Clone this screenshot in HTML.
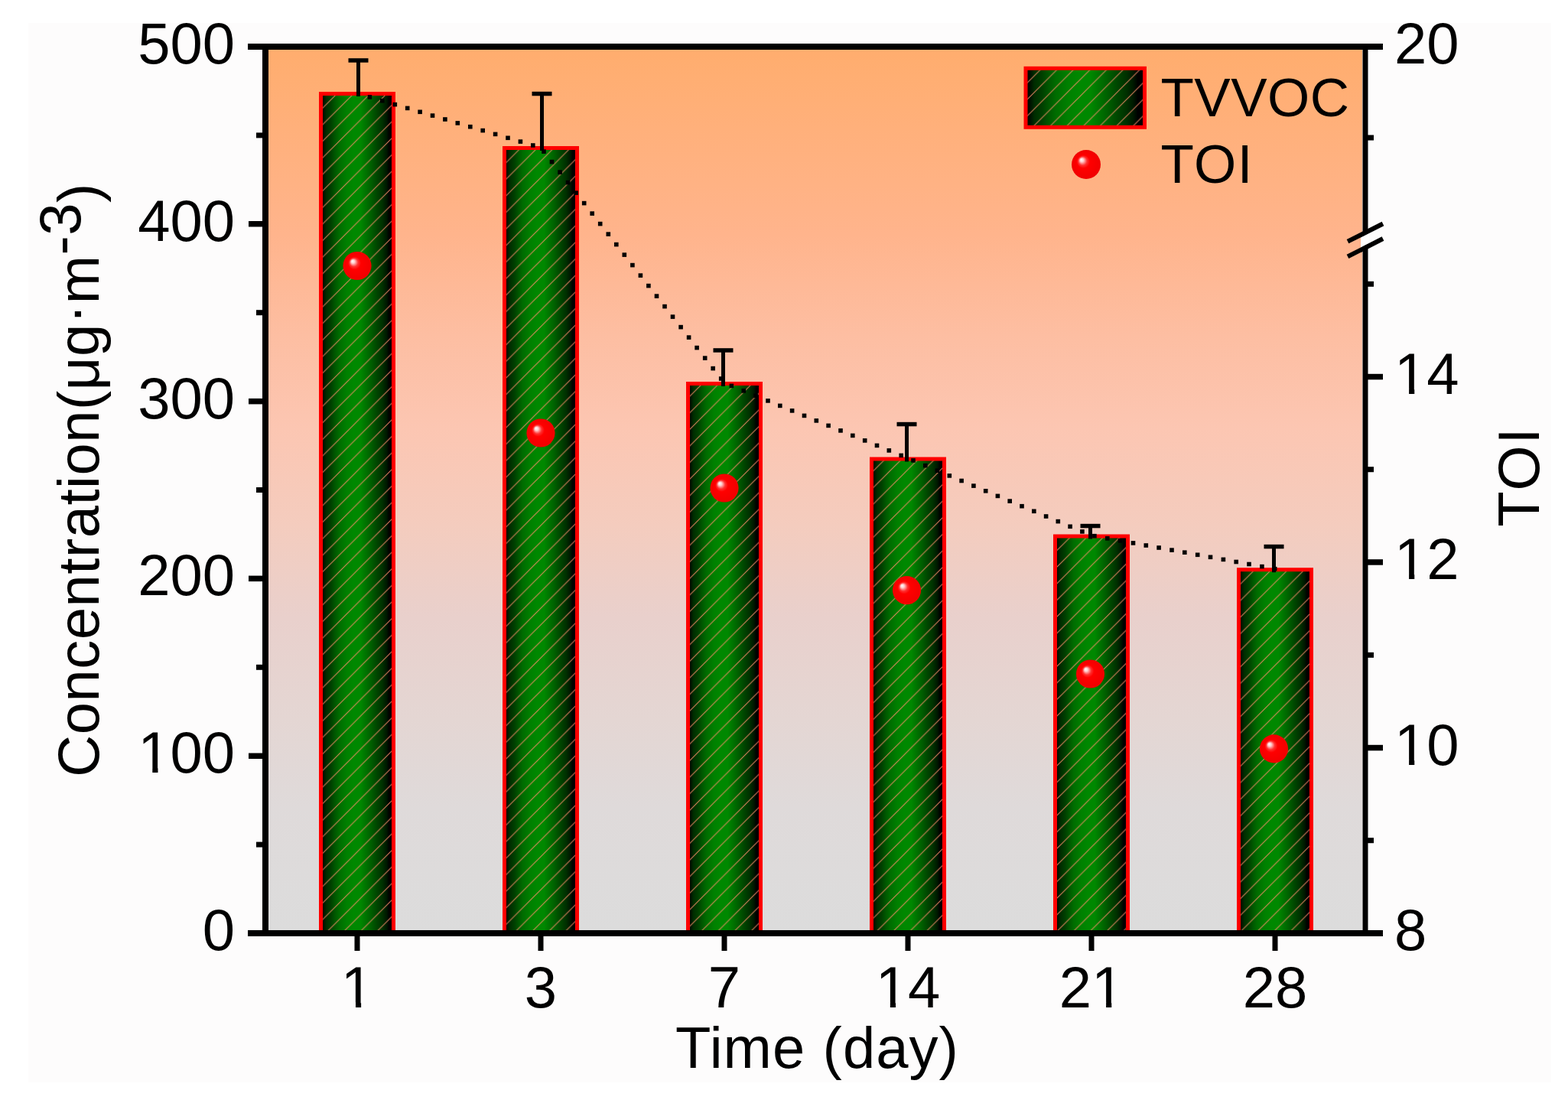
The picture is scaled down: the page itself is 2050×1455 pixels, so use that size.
<!DOCTYPE html>
<html><head><meta charset="utf-8"><title>TVVOC and TOI vs time</title>
<style>
html,body{margin:0;padding:0;background:#ffffff;}
body{width:2050px;height:1455px;overflow:hidden;}
svg{display:block;}
text{font-family:"Liberation Sans", Arial, sans-serif;fill:#000;}
</style></head><body>
<svg width="2050" height="1455" viewBox="0 0 2050 1455">
<defs>
<linearGradient id="bg" x1="0" y1="65" x2="0" y2="1216" gradientUnits="userSpaceOnUse">
<stop offset="0" stop-color="#ffad6e"/>
<stop offset="0.21" stop-color="#ffb48c"/>
<stop offset="0.325" stop-color="#fdbea2"/>
<stop offset="0.43" stop-color="#fcc6b2"/>
<stop offset="0.54" stop-color="#f4ccbe"/>
<stop offset="0.645" stop-color="#e9d0cc"/>
<stop offset="0.76" stop-color="#e4d6d3"/>
<stop offset="0.86" stop-color="#dfdada"/>
<stop offset="1" stop-color="#dcdcdc"/>
</linearGradient>
<linearGradient id="barg" x1="0" y1="0" x2="1" y2="0">
<stop offset="0.026" stop-color="#000800"/>
<stop offset="0.073" stop-color="#002c00"/>
<stop offset="0.139" stop-color="#004000"/>
<stop offset="0.196" stop-color="#005800"/>
<stop offset="0.253" stop-color="#006c00"/>
<stop offset="0.357" stop-color="#008000"/>
<stop offset="0.451" stop-color="#008800"/>
<stop offset="0.546" stop-color="#008800"/>
<stop offset="0.602" stop-color="#007800"/>
<stop offset="0.688" stop-color="#006000"/>
<stop offset="0.763" stop-color="#004800"/>
<stop offset="0.848" stop-color="#003000"/>
<stop offset="0.905" stop-color="#001800"/>
<stop offset="0.943" stop-color="#000000"/>
<stop offset="0.971" stop-color="#000000"/>
</linearGradient>
<radialGradient id="sph" cx="0.5" cy="0.5" r="0.5" fx="0.33" fy="0.33">
<stop offset="0" stop-color="#ffffff"/>
<stop offset="0.12" stop-color="#ffd0d0"/>
<stop offset="0.3" stop-color="#ff3030"/>
<stop offset="0.45" stop-color="#ff0000"/>
<stop offset="1" stop-color="#f00000"/>
</radialGradient>
</defs>

<defs><pattern id="h0" patternUnits="userSpaceOnUse" x="0.20" y="0" width="21.65" height="21.65"><path d="M-10.82,10.82 L10.82,-10.82 M0,21.65 L21.65,0 M10.82,32.47 L32.47,10.82" stroke="#f88c6a" stroke-opacity="0.85" stroke-width="1.15" fill="none"/></pattern><pattern id="h1" patternUnits="userSpaceOnUse" x="8.25" y="0" width="21.65" height="21.65"><path d="M-10.82,10.82 L10.82,-10.82 M0,21.65 L21.65,0 M10.82,32.47 L32.47,10.82" stroke="#f88c6a" stroke-opacity="0.85" stroke-width="1.15" fill="none"/></pattern><pattern id="h2" patternUnits="userSpaceOnUse" x="12.55" y="0" width="21.65" height="21.65"><path d="M-10.82,10.82 L10.82,-10.82 M0,21.65 L21.65,0 M10.82,32.47 L32.47,10.82" stroke="#f88c6a" stroke-opacity="0.85" stroke-width="1.15" fill="none"/></pattern><pattern id="h3" patternUnits="userSpaceOnUse" x="3.85" y="0" width="21.65" height="21.65"><path d="M-10.82,10.82 L10.82,-10.82 M0,21.65 L21.65,0 M10.82,32.47 L32.47,10.82" stroke="#f88c6a" stroke-opacity="0.85" stroke-width="1.15" fill="none"/></pattern><pattern id="h4" patternUnits="userSpaceOnUse" x="1.35" y="0" width="21.65" height="21.65"><path d="M-10.82,10.82 L10.82,-10.82 M0,21.65 L21.65,0 M10.82,32.47 L32.47,10.82" stroke="#f88c6a" stroke-opacity="0.85" stroke-width="1.15" fill="none"/></pattern><pattern id="h5" patternUnits="userSpaceOnUse" x="3.70" y="0" width="21.65" height="21.65"><path d="M-10.82,10.82 L10.82,-10.82 M0,21.65 L21.65,0 M10.82,32.47 L32.47,10.82" stroke="#f88c6a" stroke-opacity="0.85" stroke-width="1.15" fill="none"/></pattern><pattern id="h6" patternUnits="userSpaceOnUse" x="0.75" y="0" width="21.65" height="21.65"><path d="M-10.82,10.82 L10.82,-10.82 M0,21.65 L21.65,0 M10.82,32.47 L32.47,10.82" stroke="#f88c6a" stroke-opacity="0.85" stroke-width="1.15" fill="none"/></pattern></defs>
<rect x="37" y="30" width="1991" height="1385" fill="#fdfcfc"/>
<rect x="351" y="65" width="1430" height="1151" fill="url(#bg)"/>
<rect x="419.5" y="122.5" width="95.0" height="1098.5" fill="url(#barg)"/>
<rect x="419.5" y="122.5" width="95.0" height="1098.5" fill="url(#h0)"/>
<rect x="419.5" y="122.5" width="95.0" height="1098.5" fill="none" stroke="#ff0000" stroke-width="5"/>
<rect x="659.5" y="193.5" width="95.0" height="1027.5" fill="url(#barg)"/>
<rect x="659.5" y="193.5" width="95.0" height="1027.5" fill="url(#h1)"/>
<rect x="659.5" y="193.5" width="95.0" height="1027.5" fill="none" stroke="#ff0000" stroke-width="5"/>
<rect x="899.5" y="501.5" width="95.0" height="719.5" fill="url(#barg)"/>
<rect x="899.5" y="501.5" width="95.0" height="719.5" fill="url(#h2)"/>
<rect x="899.5" y="501.5" width="95.0" height="719.5" fill="none" stroke="#ff0000" stroke-width="5"/>
<rect x="1139.5" y="600.0" width="95.0" height="621.0" fill="url(#barg)"/>
<rect x="1139.5" y="600.0" width="95.0" height="621.0" fill="url(#h3)"/>
<rect x="1139.5" y="600.0" width="95.0" height="621.0" fill="none" stroke="#ff0000" stroke-width="5"/>
<rect x="1379.5" y="701.0" width="95.0" height="520.0" fill="url(#barg)"/>
<rect x="1379.5" y="701.0" width="95.0" height="520.0" fill="url(#h4)"/>
<rect x="1379.5" y="701.0" width="95.0" height="520.0" fill="none" stroke="#ff0000" stroke-width="5"/>
<rect x="1619.5" y="744.7" width="95.0" height="476.3" fill="url(#barg)"/>
<rect x="1619.5" y="744.7" width="95.0" height="476.3" fill="url(#h5)"/>
<rect x="1619.5" y="744.7" width="95.0" height="476.3" fill="none" stroke="#ff0000" stroke-width="5"/>
<rect x="466.0" y="79.0" width="5" height="47.0" fill="#000"/>
<rect x="455.5" y="76.2" width="26" height="5.5" fill="#000"/>
<rect x="706.0" y="122.5" width="5" height="74.5" fill="#000"/>
<rect x="695.5" y="119.8" width="26" height="5.5" fill="#000"/>
<rect x="943.0" y="458.0" width="5" height="47.0" fill="#000"/>
<rect x="932.5" y="455.2" width="26" height="5.5" fill="#000"/>
<rect x="1183.0" y="554.5" width="5" height="49.0" fill="#000"/>
<rect x="1172.5" y="551.8" width="26" height="5.5" fill="#000"/>
<rect x="1423.0" y="687.5" width="5" height="17.0" fill="#000"/>
<rect x="1412.5" y="684.8" width="26" height="5.5" fill="#000"/>
<rect x="1663.0" y="714.5" width="5" height="33.7" fill="#000"/>
<rect x="1652.5" y="711.8" width="26" height="5.5" fill="#000"/>
<g fill="#000"><rect x="480.6" y="124.1" width="5.6" height="5.6"/><rect x="497.0" y="128.9" width="5.6" height="5.6"/><rect x="513.5" y="133.8" width="5.6" height="5.6"/><rect x="529.9" y="138.6" width="5.6" height="5.6"/><rect x="546.3" y="143.5" width="5.6" height="5.6"/><rect x="562.7" y="148.3" width="5.6" height="5.6"/><rect x="579.1" y="153.2" width="5.6" height="5.6"/><rect x="595.5" y="158.1" width="5.6" height="5.6"/><rect x="612.0" y="162.9" width="5.6" height="5.6"/><rect x="628.4" y="167.8" width="5.6" height="5.6"/><rect x="644.8" y="172.6" width="5.6" height="5.6"/><rect x="661.2" y="177.5" width="5.6" height="5.6"/><rect x="677.6" y="182.3" width="5.6" height="5.6"/><rect x="694.0" y="187.2" width="5.6" height="5.6"/><rect x="708.2" y="195.3" width="5.6" height="5.6"/><rect x="718.7" y="208.8" width="5.6" height="5.6"/><rect x="729.3" y="222.3" width="5.6" height="5.6"/><rect x="739.8" y="235.8" width="5.6" height="5.6"/><rect x="750.3" y="249.3" width="5.6" height="5.6"/><rect x="760.9" y="262.8" width="5.6" height="5.6"/><rect x="771.4" y="276.3" width="5.6" height="5.6"/><rect x="781.9" y="289.8" width="5.6" height="5.6"/><rect x="792.5" y="303.3" width="5.6" height="5.6"/><rect x="803.0" y="316.8" width="5.6" height="5.6"/><rect x="813.5" y="330.3" width="5.6" height="5.6"/><rect x="824.1" y="343.8" width="5.6" height="5.6"/><rect x="834.6" y="357.3" width="5.6" height="5.6"/><rect x="845.1" y="370.8" width="5.6" height="5.6"/><rect x="855.7" y="384.3" width="5.6" height="5.6"/><rect x="866.2" y="397.8" width="5.6" height="5.6"/><rect x="876.7" y="411.3" width="5.6" height="5.6"/><rect x="887.3" y="424.8" width="5.6" height="5.6"/><rect x="897.8" y="438.3" width="5.6" height="5.6"/><rect x="908.3" y="451.8" width="5.6" height="5.6"/><rect x="918.9" y="465.3" width="5.6" height="5.6"/><rect x="929.4" y="478.8" width="5.6" height="5.6"/><rect x="939.9" y="492.2" width="5.6" height="5.6"/><rect x="953.6" y="501.6" width="5.6" height="5.6"/><rect x="969.5" y="508.1" width="5.6" height="5.6"/><rect x="985.3" y="514.6" width="5.6" height="5.6"/><rect x="1001.2" y="521.1" width="5.6" height="5.6"/><rect x="1017.0" y="527.6" width="5.6" height="5.6"/><rect x="1032.8" y="534.1" width="5.6" height="5.6"/><rect x="1048.7" y="540.6" width="5.6" height="5.6"/><rect x="1064.5" y="547.1" width="5.6" height="5.6"/><rect x="1080.3" y="553.6" width="5.6" height="5.6"/><rect x="1096.2" y="560.1" width="5.6" height="5.6"/><rect x="1112.0" y="566.6" width="5.6" height="5.6"/><rect x="1127.9" y="573.1" width="5.6" height="5.6"/><rect x="1143.7" y="579.6" width="5.6" height="5.6"/><rect x="1159.5" y="586.1" width="5.6" height="5.6"/><rect x="1175.4" y="592.6" width="5.6" height="5.6"/><rect x="1191.2" y="599.1" width="5.6" height="5.6"/><rect x="1207.0" y="605.8" width="5.6" height="5.6"/><rect x="1222.7" y="612.4" width="5.6" height="5.6"/><rect x="1238.5" y="619.1" width="5.6" height="5.6"/><rect x="1254.3" y="625.7" width="5.6" height="5.6"/><rect x="1270.1" y="632.3" width="5.6" height="5.6"/><rect x="1285.9" y="639.0" width="5.6" height="5.6"/><rect x="1301.6" y="645.6" width="5.6" height="5.6"/><rect x="1317.4" y="652.3" width="5.6" height="5.6"/><rect x="1333.2" y="658.9" width="5.6" height="5.6"/><rect x="1349.0" y="665.5" width="5.6" height="5.6"/><rect x="1364.8" y="672.2" width="5.6" height="5.6"/><rect x="1380.5" y="678.8" width="5.6" height="5.6"/><rect x="1396.3" y="685.5" width="5.6" height="5.6"/><rect x="1412.1" y="692.1" width="5.6" height="5.6"/><rect x="1428.1" y="697.9" width="5.6" height="5.6"/><rect x="1445.0" y="701.0" width="5.6" height="5.6"/><rect x="1461.8" y="704.0" width="5.6" height="5.6"/><rect x="1478.7" y="707.1" width="5.6" height="5.6"/><rect x="1495.5" y="710.2" width="5.6" height="5.6"/><rect x="1512.3" y="713.2" width="5.6" height="5.6"/><rect x="1529.2" y="716.3" width="5.6" height="5.6"/><rect x="1546.0" y="719.4" width="5.6" height="5.6"/><rect x="1562.9" y="722.5" width="5.6" height="5.6"/><rect x="1579.7" y="725.5" width="5.6" height="5.6"/><rect x="1596.6" y="728.6" width="5.6" height="5.6"/><rect x="1613.4" y="731.7" width="5.6" height="5.6"/><rect x="1630.2" y="734.7" width="5.6" height="5.6"/><rect x="1647.1" y="737.8" width="5.6" height="5.6"/><rect x="1663.9" y="740.9" width="5.6" height="5.6"/></g>
<circle cx="467.0" cy="347.5" r="18.6" fill="url(#sph)"/>
<circle cx="707.0" cy="566.0" r="18.6" fill="url(#sph)"/>
<circle cx="947.0" cy="638.0" r="18.6" fill="url(#sph)"/>
<circle cx="1185.5" cy="771.7" r="18.6" fill="url(#sph)"/>
<circle cx="1425.5" cy="881.0" r="18.6" fill="url(#sph)"/>
<circle cx="1665.5" cy="978.9" r="18.6" fill="url(#sph)"/>
<rect x="1341" y="89.3" width="155.5" height="77" fill="url(#barg)"/>
<rect x="1341" y="89.3" width="155.5" height="77" fill="url(#h6)"/>
<rect x="1341" y="89.3" width="155.5" height="77" fill="none" stroke="#ff0000" stroke-width="5"/>
<circle cx="1420" cy="215" r="19" fill="url(#sph)"/>
<text x="1517.5" y="152" font-size="71" letter-spacing="0.5">TVVOC</text>
<text x="1517.5" y="238.8" font-size="71" letter-spacing="1.5">TOI</text>
<rect x="343" y="57" width="8" height="1167" fill="#000"/>
<rect x="1781.5" y="57" width="7" height="1167" fill="#000"/>
<rect x="324" y="57" width="1484" height="8" fill="#000"/>
<rect x="324" y="1216" width="1484" height="8" fill="#000"/>
<rect x="325" y="1216.2" width="20" height="7.5" fill="#000"/>
<text x="307" y="1242.0" font-size="76" text-anchor="end">0</text>
<rect x="335" y="1100.6" width="10" height="7" fill="#000"/>
<rect x="325" y="984.5" width="20" height="7.5" fill="#000"/>
<text x="307" y="1010.2" font-size="76" text-anchor="end">100</text>
<rect x="335" y="868.8" width="10" height="7" fill="#000"/>
<rect x="325" y="752.6" width="20" height="7.5" fill="#000"/>
<text x="307" y="778.4" font-size="76" text-anchor="end">200</text>
<rect x="335" y="637.0" width="10" height="7" fill="#000"/>
<rect x="325" y="520.9" width="20" height="7.5" fill="#000"/>
<text x="307" y="546.6" font-size="76" text-anchor="end">300</text>
<rect x="335" y="405.2" width="10" height="7" fill="#000"/>
<rect x="325" y="289.0" width="20" height="7.5" fill="#000"/>
<text x="307" y="314.8" font-size="76" text-anchor="end">400</text>
<rect x="335" y="173.4" width="10" height="7" fill="#000"/>
<rect x="325" y="57.2" width="20" height="7.5" fill="#000"/>
<text x="307" y="83.0" font-size="76" text-anchor="end">500</text>
<rect x="1786" y="57.2" width="22" height="7.5" fill="#000"/>
<text x="1823" y="83.0" font-size="76">20</text>
<rect x="1786" y="488.8" width="22" height="7.5" fill="#000"/>
<text x="1823" y="514.5" font-size="76">14</text>
<rect x="1786" y="731.2" width="22" height="7.5" fill="#000"/>
<text x="1823" y="757.0" font-size="76">12</text>
<rect x="1786" y="973.8" width="22" height="7.5" fill="#000"/>
<text x="1823" y="999.5" font-size="76">10</text>
<rect x="1786" y="1216.2" width="22" height="7.5" fill="#000"/>
<text x="1823" y="1242.0" font-size="76">8</text>
<rect x="1786" y="176.5" width="10" height="7" fill="#000"/>
<rect x="1786" y="367.8" width="10" height="7" fill="#000"/>
<rect x="1786" y="610.2" width="10" height="7" fill="#000"/>
<rect x="1786" y="852.8" width="10" height="7" fill="#000"/>
<rect x="1786" y="1095.2" width="10" height="7" fill="#000"/>
<polygon points="1779,310.1 1790,304.5 1790,318.2 1779,323.8" fill="#ffffff"/>
<line x1="1762" y1="315.6" x2="1808" y2="292.5" stroke="#000" stroke-width="6"/>
<line x1="1762" y1="335.4" x2="1808" y2="312" stroke="#000" stroke-width="6"/>
<rect x="463.5" y="1222" width="7" height="21" fill="#000"/>
<text x="467.0" y="1316.5" font-size="76" text-anchor="middle">1</text>
<rect x="703.5" y="1222" width="7" height="21" fill="#000"/>
<text x="707.0" y="1316.5" font-size="76" text-anchor="middle">3</text>
<rect x="943.5" y="1222" width="7" height="21" fill="#000"/>
<text x="947.0" y="1316.5" font-size="76" text-anchor="middle">7</text>
<rect x="1183.5" y="1222" width="7" height="21" fill="#000"/>
<text x="1187.0" y="1316.5" font-size="76" text-anchor="middle">14</text>
<rect x="1423.5" y="1222" width="7" height="21" fill="#000"/>
<text x="1427.0" y="1316.5" font-size="76" text-anchor="middle">21</text>
<rect x="1663.5" y="1222" width="7" height="21" fill="#000"/>
<text x="1667.0" y="1316.5" font-size="76" text-anchor="middle">28</text>
<rect x="184.20" y="1004.00" width="15.10" height="7" fill="#fdfcfc"/>
<rect x="206.45" y="1004.00" width="14.50" height="7" fill="#fdfcfc"/>
<rect x="1827.00" y="508.30" width="15.10" height="7" fill="#fdfcfc"/>
<rect x="1849.25" y="508.30" width="14.50" height="7" fill="#fdfcfc"/>
<rect x="1827.00" y="750.80" width="15.10" height="7" fill="#fdfcfc"/>
<rect x="1849.25" y="750.80" width="14.50" height="7" fill="#fdfcfc"/>
<rect x="1827.00" y="993.30" width="15.10" height="7" fill="#fdfcfc"/>
<rect x="1849.25" y="993.30" width="14.50" height="7" fill="#fdfcfc"/>
<rect x="449.87" y="1310.30" width="15.10" height="7" fill="#fdfcfc"/>
<rect x="472.12" y="1310.30" width="14.50" height="7" fill="#fdfcfc"/>
<rect x="1148.73" y="1310.30" width="15.10" height="7" fill="#fdfcfc"/>
<rect x="1170.98" y="1310.30" width="14.50" height="7" fill="#fdfcfc"/>
<rect x="1431.00" y="1310.30" width="15.10" height="7" fill="#fdfcfc"/>
<rect x="1453.25" y="1310.30" width="14.50" height="7" fill="#fdfcfc"/>
<text x="1068.5" y="1396" font-size="76" text-anchor="middle" letter-spacing="1.07">Time (day)</text>
<text transform="translate(129,627.4) rotate(-90)" font-size="76" text-anchor="middle" letter-spacing="0.5">Concentration(&#956;g<tspan dy="-6">&#183;</tspan><tspan dy="6">m</tspan><tspan dy="-24">-3</tspan><tspan dy="24">)</tspan></text>
<text transform="translate(2012,623) rotate(-90)" font-size="76" text-anchor="middle" letter-spacing="2">TOI</text>
</svg>
</body></html>
